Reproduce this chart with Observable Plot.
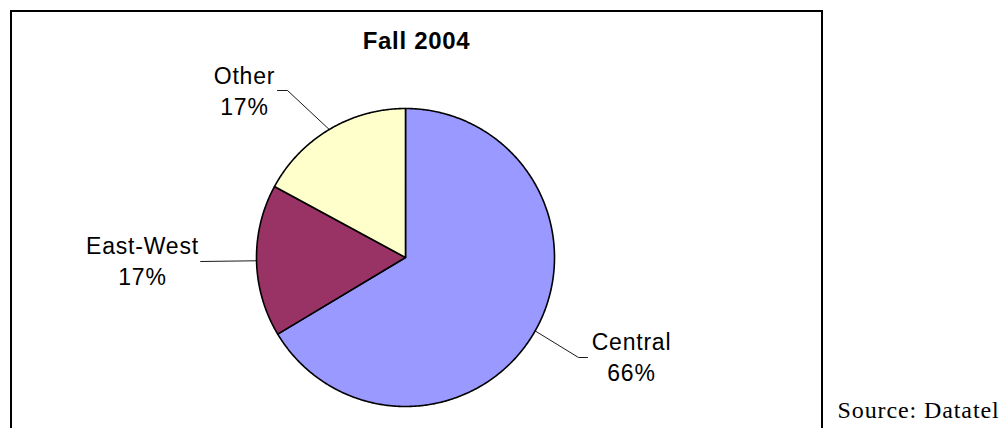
<!DOCTYPE html>
<html><head><meta charset="utf-8">
<script src="https://cdn.jsdelivr.net/npm/d3@7"></script>
<script src="https://cdn.jsdelivr.net/npm/@observablehq/plot@0.6"></script>
<style>
html,body{margin:0;padding:0;background:#fff;}
#wrap{position:relative;width:1005px;height:428px;overflow:hidden;}
#box{position:absolute;left:10px;top:10px;width:813px;height:440px;border:2px solid #000;box-sizing:border-box;pointer-events:none;}
#chart svg{display:block;}
#chart .lbl text, #chart text.lbl{letter-spacing:0.8px;}
#chart .ttl text, #chart text.ttl{letter-spacing:0.7px;}
#chart .src text, #chart text.src{letter-spacing:0.9px;}
</style></head><body>
<div id="wrap"><div id="chart"></div><div id="box"></div></div>
<script>
// ---- data ----
const categories = ["Central", "East-West", "Other"];
const values = [66.4, 16.5, 17.1];
const title = "Fall 2004";
const source = "Source: Datatel";

// ---- styles / layout ----
const colors = ["#9999FF", "#993366", "#FFFFCC"];
const W = 1005, H = 428;
const pie = {cx: 405, cy: 257, r: 149};
const labelLayout = {
  "Central":   {x: 631, y: 355, elbow: [578, 357], end: [587, 357]},
  "East-West": {x: 142, y: 259, elbow: [200, 261], end: [200, 261]},
  "Other":     {x: 244, y: 89,  elbow: [287, 90],  end: [277, 90]}
};
const titlePos = {x: 416, y: 41};
const sourcePos = {x: 837, y: 410};

const rows = categories.map((c, i) => ({cat: c, value: values[i]}));
const arcs = d3.pie().sort(null).value(d => d.value)(rows);

const slicePts = arcs.flatMap(a => {
  const n = Math.max(2, Math.ceil((a.endAngle - a.startAngle) / (Math.PI / 360)));
  const pts = [{cat: a.data.cat, x: pie.cx, y: pie.cy}];
  for (let i = 0; i <= n; i++) {
    const t = a.startAngle + (a.endAngle - a.startAngle) * i / n;
    pts.push({cat: a.data.cat, x: pie.cx + pie.r * Math.sin(t), y: pie.cy - pie.r * Math.cos(t)});
  }
  pts.push({cat: a.data.cat, x: pie.cx, y: pie.cy});
  return pts;
});

const leaderPts = arcs.flatMap(a => {
  const m = (a.startAngle + a.endAngle) / 2;
  const L = labelLayout[a.data.cat];
  return [
    {cat: a.data.cat, x: pie.cx + pie.r * Math.sin(m), y: pie.cy - pie.r * Math.cos(m)},
    {cat: a.data.cat, x: L.elbow[0], y: L.elbow[1]},
    {cat: a.data.cat, x: L.end[0], y: L.end[1]}
  ];
});

const labelRows = arcs.map(a => ({
  x: labelLayout[a.data.cat].x,
  y: labelLayout[a.data.cat].y,
  text: a.data.cat + "\n" + Math.round(a.data.value) + "%"
}));

const chart = Plot.plot({
  width: W, height: H,
  margin: 0,
  x: {domain: [0, W], range: [0, W], axis: null},
  y: {domain: [0, H], range: [0, H], axis: null},
  color: {domain: categories, range: colors},
  marks: [
    Plot.line(slicePts, {x: "x", y: "y", z: "cat", fill: "cat", stroke: "#000", strokeWidth: 1.6, strokeLinejoin: "round"}),
    Plot.line(leaderPts, {x: "x", y: "y", z: "cat", stroke: "#000", strokeWidth: 0.9}),
    Plot.text(labelRows, {x: "x", y: "y", text: "text", fontSize: 23, lineHeight: 1.37, fontFamily: "Liberation Sans, Arial, sans-serif", fill: "#000", textAnchor: "middle", className: "lbl"}),
    Plot.text([title], {x: () => titlePos.x, y: () => titlePos.y, text: d => d, fontSize: 24, fontWeight: "bold", fontFamily: "Liberation Sans, Arial, sans-serif", fill: "#000", className: "ttl"}),
    Plot.text([source], {x: () => sourcePos.x, y: () => sourcePos.y, text: d => d, fontSize: 24, fontFamily: "Liberation Serif, Times New Roman, serif", fill: "#000", textAnchor: "start", className: "src"})
  ]
});
document.getElementById("chart").appendChild(chart);
</script>
</body></html>
